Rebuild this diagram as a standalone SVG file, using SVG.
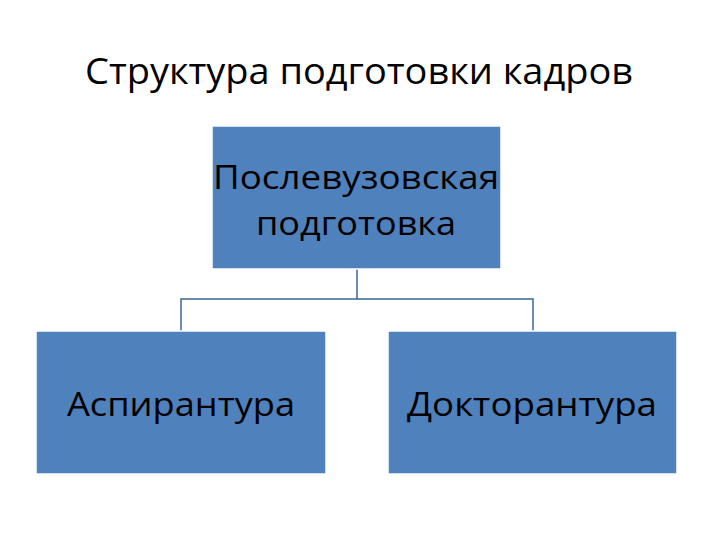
<svg xmlns="http://www.w3.org/2000/svg" width="720" height="540" viewBox="0 0 720 540">
<style>
.box{fill:#4f81bd;stroke:#ffffff;stroke-width:1.5}
.t{font-family:"Open Sans","Liberation Sans",sans-serif;fill:#000;text-anchor:middle}
.c{fill:none;stroke:#3a6593;stroke-width:1.5}
</style>
<rect width="720" height="540" fill="#fff"/>
<text class="t" x="359" y="84" font-size="36" textLength="548" lengthAdjust="spacingAndGlyphs">Структура подготовки кадров</text>
<g id="connectors">
<path class="c" d="M357 269V299M181 331V299H533V331"/>
</g>
<g id="n1"><rect class="box" x="212" y="126" width="289" height="143"/>
<text class="t" x="356" y="189" font-size="32" textLength="286" lengthAdjust="spacingAndGlyphs">Послевузовская</text>
<text class="t" x="356" y="235" font-size="32" textLength="200" lengthAdjust="spacingAndGlyphs">подготовка</text></g>
<g id="n2"><rect class="box" x="36" y="331" width="290" height="143"/>
<text class="t" x="181" y="416" font-size="32" textLength="228" lengthAdjust="spacingAndGlyphs">Аспирантура</text></g>
<g id="n3"><rect class="box" x="388" y="331" width="289" height="143"/>
<text class="t" x="532" y="416" font-size="32" textLength="250" lengthAdjust="spacingAndGlyphs">Докторантура</text></g>
</svg>
